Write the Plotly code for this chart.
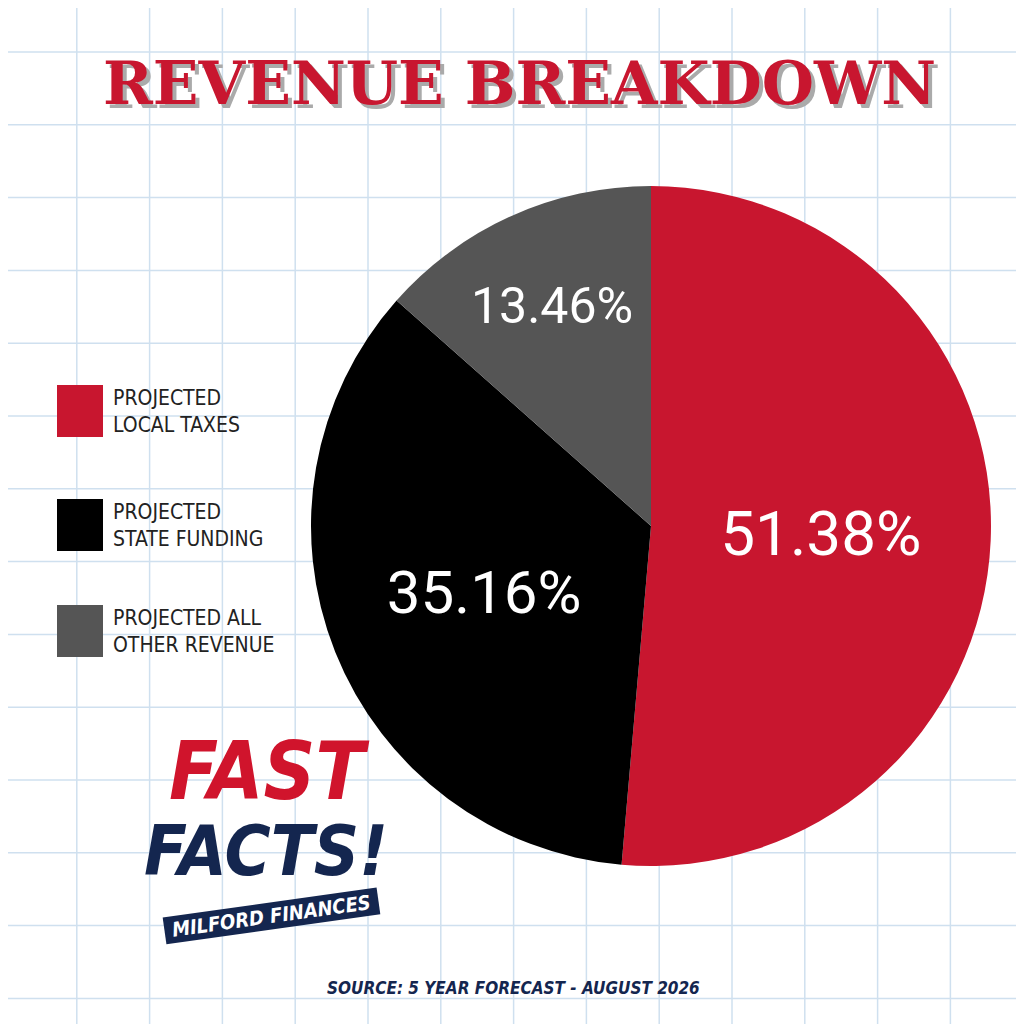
import plotly.graph_objects as go

labels = ["PROJECTED<br>LOCAL TAXES", "PROJECTED<br>STATE FUNDING", "PROJECTED ALL<br>OTHER REVENUE"]
values = [51.38, 35.16, 13.46]
text_labels = ["51.38%", "35.16%", "13.46%"]
colors = ["#C8162F", "#000000", "#555555"]

W = H = 1024
OFF = 7
def px(x): return (x - OFF) / W
def py(y): return 1 - (y - OFF) / H

fig = go.Figure()
fig.add_trace(go.Pie(
    values=values, labels=labels, text=text_labels, textinfo="text",
    sort=False, direction="clockwise", rotation=0,
    marker=dict(colors=colors, line=dict(width=0)),
    textposition="inside",
    textfont=dict(color="white", size=[62, 60, 50], family="Roboto"),
    insidetextorientation="horizontal",
    domain=dict(x=[px(310), px(990)], y=[py(865), py(185)]),
    showlegend=False, hoverinfo="skip",
))

shapes = []
step = 72.8
x = 3.0
while x < W + 10:
    shapes.append(dict(type="line", xref="paper", yref="paper", x0=px(x), x1=px(x), y0=-0.02, y1=1.02,
                       line=dict(color="#CFE0EF", width=1.5), layer="below"))
    x += step
y = 51.0 - step
while y < H + 10:
    shapes.append(dict(type="line", xref="paper", yref="paper", y0=py(y), y1=py(y), x0=-0.02, x1=1.02,
                       line=dict(color="#CFE0EF", width=1.5), layer="below"))
    y += step

annotations = []
legend_tops = [384, 498, 604]
for top, lab, c in zip(legend_tops, labels, colors):
    shapes.append(dict(type="rect", xref="paper", yref="paper", x0=px(56), x1=px(102),
                       y0=py(top + 52), y1=py(top), fillcolor=c, line=dict(width=0)))
    annotations.append(dict(x=px(110), y=py(top + 26), xref="paper", yref="paper", text=lab,
                            showarrow=False, xanchor="left", yanchor="middle", align="left",
                            font=dict(size=21, color="#222", family="DejaVu Sans Condensed")))

# title with shadow
for dx, dy, col in [(4, 4, "#AAAAAA"), (0, 0, "#C8162F")]:
    annotations.append(dict(x=px(518 + dx), y=py(82 + dy), xref="paper", yref="paper",
                            text="<b>REVENUE BREAKDOWN</b>", showarrow=False,
                            font=dict(size=60, color=col, family="DejaVu Serif"),
                            xanchor="center", yanchor="middle"))

annotations += [
    dict(x=px(268), y=py(770), xref="paper", yref="paper", text="<b><i>FAST</i></b>", showarrow=False,
         font=dict(size=80, color="#D0142C", family="DejaVu Sans Condensed"), xanchor="center", yanchor="middle"),
    dict(x=px(265), y=py(850), xref="paper", yref="paper", text="<b><i>FACTS!</i></b>", showarrow=False,
         font=dict(size=70, color="#14264F", family="DejaVu Sans Condensed"), xanchor="center", yanchor="middle"),
    dict(x=px(270), y=py(915), xref="paper", yref="paper", text="<b><i> MILFORD FINANCES </i></b>", showarrow=False,
         textangle=-8, font=dict(size=20, color="white", family="DejaVu Sans Condensed"), bgcolor="#14264F",
         xanchor="center", yanchor="middle"),
    dict(x=px(512), y=py(987), xref="paper", yref="paper", text="<b><i>SOURCE: 5 YEAR FORECAST - AUGUST 2026</i></b>",
         showarrow=False, font=dict(size=17, color="#14264F", family="DejaVu Sans Condensed"), xanchor="center",
         yanchor="middle"),
]

fig.update_layout(width=W, height=H, margin=dict(l=0, r=0, t=0, b=0),
                  paper_bgcolor="white", plot_bgcolor="white",
                  shapes=shapes, annotations=annotations)
fig.write_html("out.html")
